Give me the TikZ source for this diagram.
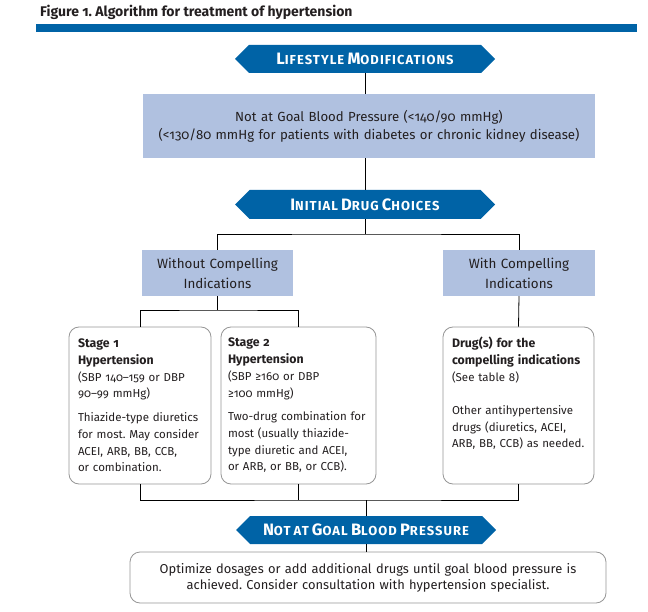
\documentclass[tikz,border=0pt]{standalone}
\usepackage{fontspec}
\setmainfont{Fira Sans}[Numbers=OldStyle]
\usetikzlibrary{shapes.symbols}
\frenchspacing

\definecolor{jncblue}{RGB}{0,99,166}
\definecolor{jncgray}{RGB}{176,193,224}
\definecolor{jncline}{RGB}{150,150,150}
\definecolor{jnctext}{RGB}{35,31,32}

% fake small caps: big first letter, smaller capitals after it
\newcommand{\bsc}[2]{{\fontsize{16.5}{16.5}\selectfont #1}{\fontsize{13}{13}\selectfont #2}}
\newcommand{\hd}[1]{{\fontsize{12.3}{16.7}\selectfont\bfseries #1}}

\tikzset{
	banner/.style={signal, signal to=west and east, signal pointer angle=90, fill=jncblue, text=white, font=\bfseries\addfontfeature{LetterSpace=8}, minimum width=260pt, minimum height=28pt, inner sep=0pt},
	graybox/.style={fill=jncgray, text=jnctext, align=center, inner sep=0pt},
	roundbox/.style={draw=jncline, line width=0.8pt, rounded corners=10pt, fill=white, text=jnctext, align=left, inner xsep=9pt, inner ysep=0pt, minimum height=157pt, font=\fontsize{11.5}{16.7}\selectfont},
	conn/.style={line width=0.8pt, black}
}

\begin{document}
\begin{tikzpicture}[x=1pt,y=-1pt]
	\useasboundingbox (0,0) rectangle (648,612);

	\node[anchor=base west, inner sep=0pt, text=jnctext, font=\bfseries\fontsize{14}{16}\selectfont] (title) at (40,17) {Figure 1. Algorithm for treatment of hypertension};
	\fill[jncblue] (36,24) rectangle (637,32);

	\node[banner] (lifestyle) at (365,59) {\bsc{L}{IFESTYLE} \bsc{M}{ODIFICATIONS}};
	\node[graybox, text width=452pt, minimum height=64pt, font=\fontsize{13.2}{18}\selectfont] (goal) at (369,126) {Not at Goal Blood Pressure (<140/90 mmHg)\\(<130/80 mmHg for patients with diabetes or chronic kidney disease)};
	\node[banner, minimum height=29pt] (initial) at (365,204.5) {\bsc{I}{NITIAL} \bsc{D}{RUG} \bsc{C}{HOICES}};

	\node[graybox, text width=151pt, minimum height=46pt, font=\fontsize{13.4}{20}\selectfont] (without) at (217.5,273) {Without Compelling\\Indications};
	\node[graybox, text width=152pt, minimum height=46pt, font=\fontsize{13.4}{20}\selectfont] (with) at (519,273) {With Compelling\\Indications};

	\node[roundbox, text width=124pt] (stage1) at (140,405.5) {\hd{Stage 1}\\\hd{Hypertension}\\(SBP 140--159 or DBP\\90--99 mmHg)\par\vspace{7pt}Thiazide-type diuretics\\for most. May consider\\ACEI, ARB, BB, CCB,\\or combination.};
	\node[roundbox, text width=141pt, inner xsep=7pt] (stage2) at (298.5,405.5) {\hd{Stage 2}\\\hd{Hypertension}\\(SBP ≥160 or DBP\\≥100 mmHg)\par\vspace{7pt}Two-drug combination for\\most (usually thiazide-\\type diuretic and ACEI,\\or ARB, or BB, or CCB).};
	\node[roundbox, text width=133pt] (drugs) at (518.5,405.5) {\hd{Drug(s) for the}\\\hd{compelling indications}\\(See table 8)\par\vspace{16.5pt}Other antihypertensive\\drugs (diuretics, ACEI,\\ARB, BB, CCB) as needed.\par\vspace*{24pt}};

	\node[banner] (notgoal) at (366,530) {\bsc{N}{OT} {\fontsize{13}{13}\selectfont AT} \bsc{G}{OAL} \bsc{B}{LOOD} \bsc{P}{RESSURE}};
	\node[roundbox, align=center, text width=458pt, minimum height=51pt, font=\fontsize{12.9}{16}\selectfont] (optimize) at (368,577.5) {Optimize dosages or add additional drugs until goal blood pressure is\\achieved. Consider consultation with hypertension specialist.};

	\coordinate (split1) at (365,234);
	\coordinate (split2) at (217.5,310);
	\coordinate (join) at (366,500);

	\draw[conn] (lifestyle.south) -- (lifestyle.south |- goal.north);
	\draw[conn] (goal.south -| initial.north) -- (initial.north);
	\draw[conn] (initial.south) -- (split1);
	\draw[conn] (without.north) |- (split1) -| (with.north);

	\draw[conn] (without.south) -- (split2);
	\draw[conn] (stage1.north) |- (split2) -| (stage2.north);
	\draw[conn] (with.south) -- (drugs.north);

	\draw[conn] (stage1.south) |- (join) -| (drugs.south);
	\draw[conn] (stage2.south) -- (stage2.south |- join);
	\draw[conn] (join) -- (notgoal.north);
	\draw[conn] (notgoal.south) -- (notgoal.south |- optimize.north);
\end{tikzpicture}
\end{document}
